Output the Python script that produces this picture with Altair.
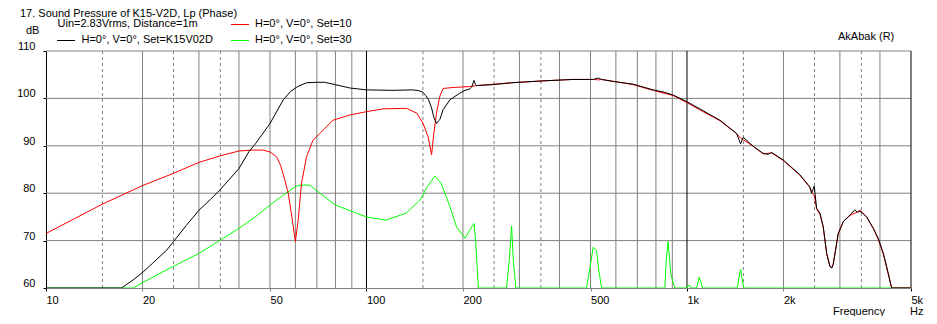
import altair as alt
import pandas as pd

# ---------------- data ----------------
black_f = [10, 17.2, 18.7, 20.1, 21.5, 23.8, 25, 27.4, 30, 32.5, 35, 40, 43, 45, 50, 55, 58, 61, 65, 70,
           74, 80, 88.7, 100, 120, 140, 146, 150, 153, 156, 159.6, 162.2, 165.4, 167.5, 169.3, 173.4,
           182, 195.5, 203, 210, 213, 216.5, 218.5, 220.5, 248.5, 283.7, 355.8, 441, 496, 510, 529,
           541, 588, 616, 679, 784, 850, 906, 1000, 1123, 1267, 1428, 1470, 1498, 1609, 1729, 1790,
           1837, 1997, 2251, 2419, 2449, 2495, 2538, 2600, 2662, 2728, 2793, 2830, 2860, 2964, 3073,
           3224, 3342, 3400, 3464, 3530, 3635, 3812, 3950, 4100, 4198, 4351, 5000]
black_db = [60, 60, 61.7, 63.4, 65.2, 68.0, 69.8, 73.2, 76.4, 78.6, 80.8, 85.2, 88.8, 90.4, 94.7, 99.7,
            101.5, 102.5, 103.3, 103.4, 103.4, 102.9, 102.2, 101.8, 101.7, 101.8, 101.6, 101.3, 100.6,
            99.8, 98.0, 96.0, 94.7, 95.2, 95.5, 97.6, 99.7, 101.1, 101.7, 102.0, 102.4, 103.8, 103.0,
            102.7, 102.9, 103.3, 103.7, 104.0, 104.0, 104.0, 104.3, 104.0, 103.6, 103.4, 103.0, 101.8,
            101.3, 100.7, 99.3, 97.4, 95.4, 92.6, 90.4, 91.8, 89.9, 88.4, 88.2, 88.6, 87.0, 83.9, 81.3,
            80.0, 81.5, 76.8, 75.8, 72.9, 67.3, 64.5, 64.2, 65.0, 71.5, 74.0, 75.4, 76.5, 76.0, 76.2,
            75.8, 75.0, 72.6, 70.5, 67.3, 64.5, 60, 60]

red_f = [10, 15, 20, 25, 30, 35, 40, 44, 47.5, 50, 52.4, 54, 55.5, 57, 58.5, 60, 61.2, 62.7, 65, 68.1,
         71.5, 78.6, 88.7, 100, 112.7, 133.3, 143.5, 150.2, 155.7, 159.6, 162.2, 165.4, 169.3, 173.4,
         186.4, 210, 220.5, 248.5, 283.7, 355.8, 441, 496, 510, 529, 541, 588, 616, 679, 784, 906,
         1000, 1123, 1267, 1428, 1470, 1498, 1609, 1729, 1837, 1997, 2251, 2419, 2449, 2495, 2538,
         2600, 2662, 2728, 2793, 2830, 2860, 2964, 3073, 3224, 3342, 3400, 3464, 3530, 3635, 3812,
         3950, 4100, 4198, 4351, 5000]
red_db = [71.5, 77.7, 81.6, 84.2, 86.5, 87.9, 88.9, 89.1, 89.1, 88.7, 87.7, 85.8, 83.0, 80.0, 75.0,
          69.8, 74.3, 82.1, 87.7, 91.2, 92.6, 95.4, 96.5, 97.2, 97.8, 97.9, 96.9, 94.7, 91.9, 88.1,
          92.6, 96.9, 100.4, 102.1, 102.3, 102.5, 102.7, 103.0, 103.3, 103.7, 104.0, 104.0, 104.0,
          103.9, 104.0, 103.6, 103.4, 102.9, 101.7, 100.6, 99.1, 97.2, 95.3, 92.6, 91.6, 91.3, 89.9,
          88.3, 88.5, 86.9, 83.8, 81.2, 80.2, 79.5, 76.7, 75.5, 72.8, 67.3, 64.6, 64.3, 65.1, 71.4,
          74.0, 75.3, 75.8, 76.0, 76.4, 75.9, 75.0, 72.6, 70.3, 67.1, 64.3, 60, 60]

green_f = [10, 17.2, 18.7, 20.1, 25, 30, 35, 40, 45, 50, 55, 60, 62, 66.5, 71.5, 80, 90.6, 100, 115,
           133, 147, 155, 163.4, 171, 182, 191, 203, 210, 216.5, 219, 223.4, 273.5, 279, 283.7, 287,
           292.4, 486, 500, 509.6, 522.4, 530, 541.4, 853, 862, 873, 880, 890, 916, 995, 1005, 1020,
           1030, 1072, 1092, 1119, 1435, 1455, 1470, 1485, 1505, 5000]
green_db = [60, 60, 60, 61.2, 64.6, 67.3, 70.1, 72.6, 75.0, 77.5, 79.6, 81.4, 81.7, 81.7, 80.0, 77.5,
            76.1, 75.0, 74.3, 75.8, 78.6, 81.4, 83.6, 82.1, 77.2, 72.9, 70.5, 72.2, 73.6, 70.1, 60,
            60, 66.0, 73.1, 66.0, 60, 60, 65.0, 68.6, 67.9, 64.0, 60, 60, 66.0, 69.8, 67.0, 63.0, 60,
            60, 60.5, 60.5, 60, 60, 62.3, 60, 60, 62.5, 63.9, 62.0, 60, 60]

x_ticks = [10, 20, 50, 100, 200, 500, 1000, 2000, 5000]
y_ticks = [60, 70, 80, 90, 100, 110]
grid_solid = [20, 30, 40, 50, 60, 70, 80, 90, 200, 300, 400, 500, 600, 700, 800, 900, 2000, 3000, 4000]
grid_dashed = [15, 25, 35, 150, 250, 350, 1500, 2500, 3500]
grid_black = [100, 1000, 5000]
grid_h = [70, 80, 90, 100, 110]

title_text = "17. Sound Pressure of K15-V2D, Lp (Phase)"
info_text = "Uin=2.83Vrms, Distance=1m"
legend_black = "H=0°, V=0°, Set=K15V02D"
legend_red = "H=0°, V=0°, Set=10"
legend_green = "H=0°, V=0°, Set=30"

# ---------------- chart ----------------
FONT = "Liberation Sans"
GREY = "#808080"
W, H = 865, 237

xs = alt.Scale(type="log", domain=[10, 5000], nice=False)
ys = alt.Scale(domain=[60, 110], nice=False, clamp=True)

xaxis = alt.Axis(values=x_ticks, title=None, grid=False, domainColor=GREY, domainWidth=1,
                 tickColor={"condition": {"test": "indexof([10,100,1000,5000], datum.value) >= 0",
                                          "value": "#000000"}, "value": GREY},
                 tickSize=3, labelAlign="left", labelBaseline="top", labelPadding=3,
                 labelFont=FONT, labelFontSize=11, labelColor="#000000", labelFlush=False,
                 labelOverlap=False,
                 labelExpr="datum.value >= 1000 ? (datum.value/1000) + 'k' : datum.label")
yaxis = alt.Axis(values=y_ticks, title=None, grid=False, domainColor="#000000", domainWidth=1,
                 tickColor="#000000", tickSize=3, labelPadding=8, labelBaseline="alphabetic",
                 labelOffset=-1.5, labelFont=FONT, labelFontSize=11, labelColor="#000000",
                 labelFlush=False, labelOverlap=False)

X = alt.X("f:Q", scale=xs, axis=xaxis)
Y = alt.Y("db:Q", scale=ys, axis=yaxis)


def vrules(vals, color, dash=None):
    kw = dict(color=color, strokeWidth=1)
    if dash:
        kw["strokeDash"] = dash
    return alt.Chart(pd.DataFrame({"f": vals})).mark_rule(**kw).encode(x=X)


def curve(f, db, color):
    df = pd.DataFrame({"f": f, "db": db, "i": list(range(len(f)))})
    return alt.Chart(df).mark_line(color=color, strokeWidth=1, clip=True).encode(
        x=X, y=Y, order="i:Q")


def label(text, vx, vy, align="left", size=11):
    return alt.Chart(pd.DataFrame({"t": [text]})).mark_text(
        align=align, baseline="middle", font=FONT, fontSize=size, color="#000000"
    ).encode(text="t:N", x=alt.value(vx), y=alt.value(vy))


def swatch(color, x1, x2, vy):
    return alt.Chart(pd.DataFrame({"t": [0]})).mark_rule(color=color, strokeWidth=1).encode(
        x=alt.value(x1), x2=alt.value(x2), y=alt.value(vy))


hgrid = alt.Chart(pd.DataFrame({"db": grid_h})).mark_rule(color=GREY, strokeWidth=1).encode(y=Y)

layers = [
    vrules(grid_solid, GREY),
    vrules(grid_dashed, GREY, [3, 3]),
    hgrid,
    vrules(grid_black, "#000000"),
    curve(green_f, green_db, "#00FF00"),
    curve(red_f, red_db, "#FF0000"),
    curve(black_f, black_db, "#000000"),
    label(title_text, -26, -37.5),
    label(info_text, 11.5, -27),
    label("dB", -20, -20),
    swatch("#000000", 11, 29, -10.5),
    label(legend_black, 35.5, -11),
    swatch("#FF0000", 185, 203, -26.5),
    label(legend_red, 209, -27),
    swatch("#00FF00", 185, 203, -10.5),
    label(legend_green, 209, -11),
    label("AkAbak (R)", 792, -14),
    label("Frequency", 787, 261),
    label("Hz", 864, 261),
]

chart = alt.layer(*layers).properties(
    width=W, height=H,
    autosize=alt.AutoSizeParams(type="none"),
    padding={"left": 38, "top": 43, "right": 18, "bottom": 28},
    background="white",
).configure_view(stroke=None)

chart.save("out.html", embed_options={"renderer": "svg", "actions": False})
